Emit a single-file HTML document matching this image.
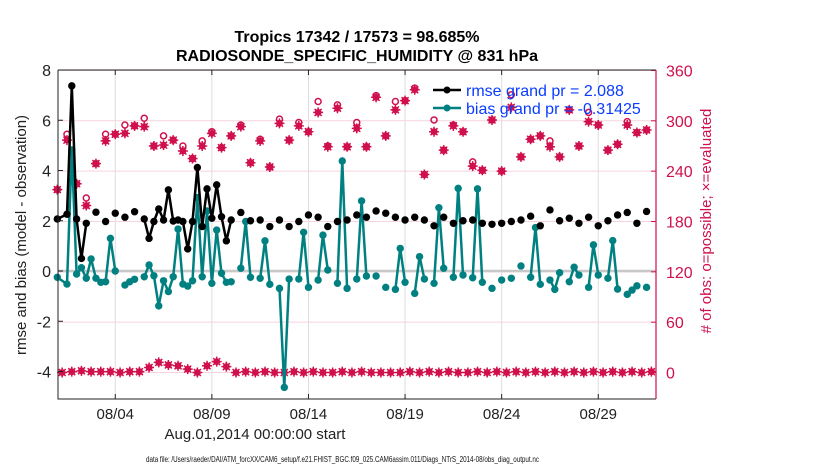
<!DOCTYPE html>
<html><head><meta charset="utf-8"><style>
html,body{margin:0;padding:0;background:#fff;width:830px;height:470px;overflow:hidden}
svg{font-family:"Liberation Sans",sans-serif}
</style></head><body>
<svg id="chart" width="830" height="470" viewBox="0 0 830 470">
<g id="grid"></g><g id="marks"></g><g id="axes"></g>
<text x="357" y="42" text-anchor="middle" font-size="16" font-weight="bold">Tropics 17342 / 17573 = 98.685%</text>
<text x="357" y="61" text-anchor="middle" font-size="16" font-weight="bold">RADIOSONDE_SPECIFIC_HUMIDITY @ 831 hPa</text>
<text x="255" y="439" text-anchor="middle" font-size="15" fill="#222">Aug.01,2014 00:00:00 start</text>
<text transform="translate(26,235) rotate(-90)" text-anchor="middle" font-size="15" fill="#222">rmse and bias (model - observation)</text>
<text transform="translate(711,221) rotate(-90)" text-anchor="middle" font-size="15" fill="#d0104c"># of obs: o=possible; ×=evaluated</text>
<text x="146" y="462" font-size="8" fill="#111" textLength="393" lengthAdjust="spacingAndGlyphs">data file: /Users/raeder/DAI/ATM_forcXX/CAM6_setup/f.e21.FHIST_BGC.f09_025.CAM6assim.011/Diags_NTrS_2014-08/obs_diag_output.nc</text>
<g>
<line x1="433" y1="90" x2="461" y2="90" stroke="#000" stroke-width="2.5"/>
<circle cx="447" cy="90" r="3.5" fill="#000"/>
<text x="466" y="96" font-size="16" fill="#0a3cff">rmse grand pr = 2.088</text>
<line x1="433" y1="108" x2="461" y2="108" stroke="#008080" stroke-width="2.5"/>
<circle cx="447" cy="108" r="3.5" fill="#008080"/>
<text x="466" y="114" font-size="16" fill="#0a3cff">bias grand pr = -0.31425</text>
</g>
</svg>
<script>
// times in 6-hour steps from Aug 1 00:00
const rmseK=[0,2,3,4,5,6,8,10,12,14,16,18,19,20,21,22,23,24,25,26,27,28,29,30,31,32,33,34,35,36,38,40,42,44,46,48,50,52,54,56,58,60,62,64,66,68,70,72,74,76,78,80,82,84,86,88,90,92,94,96,98,100,102,104,106,108,110,112,114,116,118,120,122];
const rmseV=[2.07,2.26,7.37,2.07,0.5,1.9,2.34,1.97,2.3,2.14,2.36,2.07,1.3,1.97,2.47,2.03,3.23,1.99,2.03,1.97,0.88,1.97,4.12,1.77,3.27,2.1,3.43,2.16,1.2,2.03,2.33,2.0,2.03,1.77,2.03,1.77,1.97,2.23,2.14,1.77,1.97,2.03,2.23,2.14,2.39,2.3,2.14,2.03,2.14,2.03,1.8,2.14,1.9,2.0,2.03,1.9,1.86,1.9,1.97,2.03,2.18,1.8,2.43,2.0,2.1,1.9,2.14,1.8,2.0,2.23,2.33,1.9,2.37];
const biasK=[0,2,3,4,5,6,7,8,9,10,11,12,14,15,16,18,19,20,21,22,23,24,25,26,27,28,29,30,31,32,33,34,35,36,38,39,40,42,43,44,46,47,48,50,51,52,54,55,56,58,59,60,62,63,64,66,68,70,71,72,74,75,76,78,79,80,82,83,84,86,87,88,90,92,94,96,98,99,100,102,103,104,106,107,108,110,111,112,114,115,116,118,119,120,122];
const biasV=[-0.25,-0.52,4.82,-0.12,0.13,-0.29,0.48,-0.29,-0.45,-0.43,1.3,0,-0.56,-0.43,-0.33,-0.23,0.24,-0.19,-1.39,-0.39,-0.82,-0.23,1.67,-0.52,-0.6,-0.39,2.92,-0.23,2.39,-0.49,1.63,-0.09,-0.45,-0.43,0.11,1.97,-0.25,-0.29,1.2,-0.53,-0.69,-4.63,-0.32,-0.32,1.54,-0.65,-0.36,1.43,0.04,-0.49,4.38,-0.69,-0.32,2.79,-0.2,-0.2,-0.65,-0.73,0.9,-0.45,-0.89,0.57,-0.32,-0.49,2.52,0.11,-0.25,3.29,-0.16,-0.27,3.27,-0.45,-0.69,-0.36,-0.29,0.2,-0.25,1.73,-0.53,-0.36,-0.73,-0.07,-0.43,0.15,-0.16,-0.65,1.04,-0.16,-0.29,1.21,-0.72,-0.93,-0.76,-0.59,-0.65];
const evalK=[0,2,4,6,8,10,12,14,16,18,20,22,24,26,28,30,32,34,36,38,40,42,44,46,48,50,52,54,56,58,60,62,64,66,68,70,72,74,76,78,80,82,84,86,88,90,92,94,96,98,100,102,104,106,108,110,112,114,116,118,120,122];
const evalV=[218,277,225,199,249,276,284,285,294,293,270,271,277,264,255,270,285,268,282,293,250,276,245,297,277,294,287,310,269,315,269,291,269,328,282,313,324,337,236,287,265,294,287,246,241,301,240,316,257,278,282,269,257,313,270,299,295,265,272,295,286,289];
const possV=[218,284,225,208,249,284,284,295,294,303,270,282,277,270,255,276,287,268,282,295,250,278,245,302,277,298,287,323,270,319,269,298,269,330,282,323,324,339,236,301,265,295,287,251,241,301,240,331,257,278,282,276,257,313,270,310,295,265,272,299,286,289];
const lowK=[1,3,5,7,9,11,13,15,17,19,21,23,25,27,29,31,33,35,37,39,41,43,45,47,49,51,53,55,57,59,61,63,65,67,69,71,73,75,77,79,81,83,85,87,89,91,93,95,97,99,101,103,105,107,109,111,113,115,117,119,121,123];
const lowV=[0,1,2,1,1,1,0,1,1,6,12,9,8,4,0,8,13,7,0,1,0,1,0,0,1,0,1,0,0,1,0,1,0,0,0,0,1,0,1,0,1,0,0,1,0,1,0,1,0,1,0,1,0,1,0,1,0,1,0,1,0,1];
const xTickDays=[3,8,13,18,23,28];
const xTickLabels=['08/04','08/09','08/14','08/19','08/24','08/29'];
const leftTicks=[-4,-2,0,2,4,6,8];
const rightTicks=[0,60,120,180,240,300,360];

const NS='http://www.w3.org/2000/svg';
const X0=58,X1=656,Y0=70,Y1=399;
const xs=d=>57.3+d*19.32;
const xk=k=>xs(k/4);
const yl=v=>271-v*25.125;
const yr=v=>372.5-v*0.839;
function mk(tag,attrs,parent){const e=document.createElementNS(NS,tag);for(const a in attrs)e.setAttribute(a,attrs[a]);parent.appendChild(e);return e;}
const grid=document.getElementById('grid'),marks=document.getElementById('marks'),axes=document.getElementById('axes');
xTickDays.forEach((d,i)=>{
 const g=mk('line',{x1:xs(d),x2:xs(d),y1:Y0,y2:Y1,stroke:'#ddd','stroke-width':1},grid);
 
 
 const t=mk('line',{x1:xs(d),x2:xs(d),y1:Y1,y2:Y1-5,stroke:'#222','stroke-width':1},axes);
 
 
 const t2=mk('line',{x1:xs(d),x2:xs(d),y1:Y0,y2:Y0+5,stroke:'#222','stroke-width':1},axes);
 
 
 const l=mk('text',{x:xs(d),y:419,'text-anchor':'middle','font-size':15,fill:'#222'},axes);
 l.textContent=xTickLabels[i];
 
 
});
rightTicks.forEach(v=>{
 const g=mk('line',{x1:X0,x2:X1,y1:yr(v),y2:yr(v),stroke:'#f6d3df','stroke-width':1},grid);
 
 
 const t=mk('line',{x1:X1,x2:X1-5,y1:yr(v),y2:yr(v),stroke:'#d0104c'},axes);
 
 
 const l=mk('text',{x:X1+10,y:yr(v)+6,'font-size':16,fill:'#d0104c'},axes);
 l.textContent=v;
 
 
});
leftTicks.forEach(v=>{
 const t=mk('line',{x1:X0,x2:X0+5,y1:yl(v),y2:yl(v),stroke:'#222'},axes);
 
 
 const l=mk('text',{x:X0-7,y:yl(v)+6,'text-anchor':'end','font-size':16,fill:'#222'},axes);
 l.textContent=v;
 
 
});
const zl=mk('line',{x1:X0,x2:X1,y1:yl(0),y2:yl(0),stroke:'#c8c8c8','stroke-width':2.5},grid);


const ax=mk('path',{d:`M${X0},${Y0}V${Y1}H${X1}M${X0},${Y0}H${X1}`,fill:'none',stroke:'#222','stroke-width':1},axes);


const ra=mk('line',{x1:X1,x2:X1,y1:Y0,y2:Y1,stroke:'#d0104c','stroke-width':1.2},axes);



function star(cx,cy,name){
 const g=mk('g',{},marks);
 
 
 mk('circle',{cx:cx,cy:cy,r:3.4,fill:'#d0104c'},g);
 mk('path',{d:`M${cx-5},${cy}H${cx+5}M${cx},${cy-5}V${cy+5}M${cx-3.5},${cy-3.5}L${cx+3.5},${cy+3.5}M${cx-3.5},${cy+3.5}L${cx+3.5},${cy-3.5}`,stroke:'#d0104c','stroke-width':1.5},g);
}
possV.forEach((v,i)=>{
 const c=mk('circle',{cx:xk(evalK[i]),cy:yr(v),r:3,fill:'none',stroke:'#d0104c','stroke-width':1.5},marks);
 
 
});
evalV.forEach((v,i)=>star(xk(evalK[i]),yr(v),'obs-evaluated-point'));
lowV.forEach((v,i)=>star(xk(lowK[i]),yr(v),'obs-evaluated-point'));

function series(K,V,color,name){
 let d='';
 for(let i=0;i<K.length;i++){
  const cmd=(i>0&&K[i]-K[i-1]<=1)||(i===1&&K[0]===0)?'L':'M';
  d+=cmd+xk(K[i]).toFixed(1)+','+yl(V[i]).toFixed(1);
 }
 const p=mk('path',{d:d,fill:'none',stroke:color,'stroke-width':2.5,'stroke-linejoin':'round'},marks);
 
 
 V.forEach((v,i)=>{
  const c=mk('circle',{cx:xk(K[i]),cy:yl(v),r:3.7,fill:color},marks);
  
  
 });
}
series(biasK,biasV,'#008080','bias');
series(rmseK,rmseV,'#000000','rmse');
</script>
</body></html>
